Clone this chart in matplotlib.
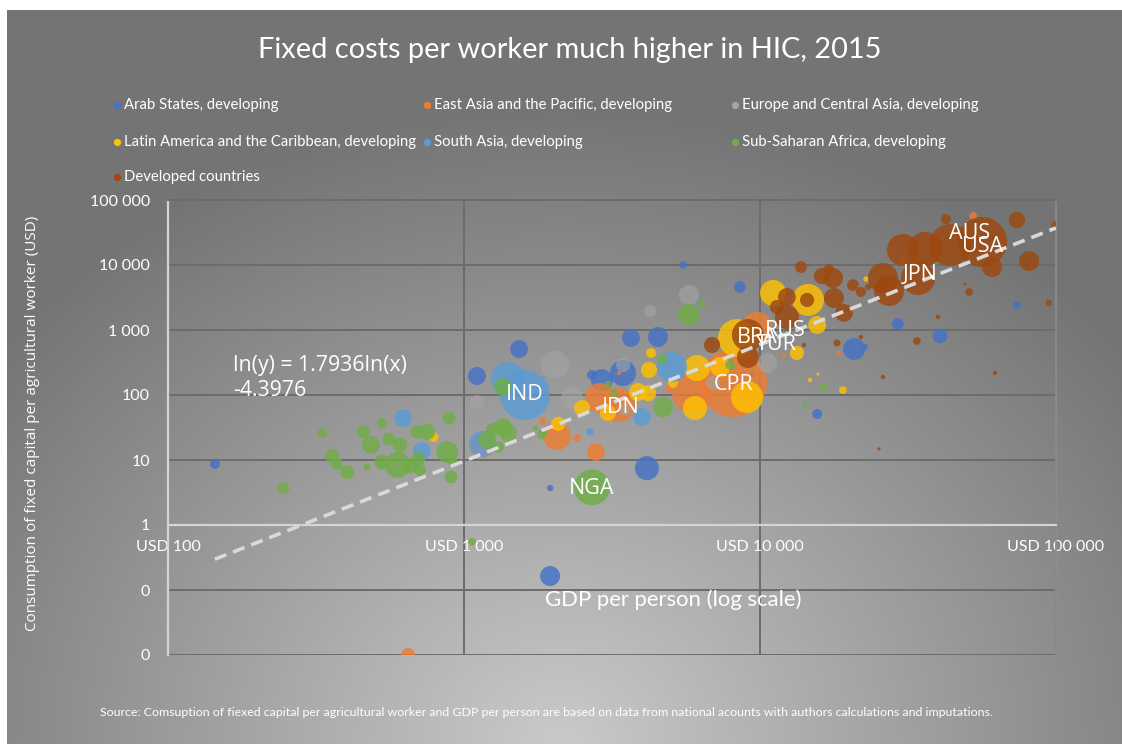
import numpy as np
import matplotlib.pyplot as plt
from matplotlib.lines import Line2D
from matplotlib.ticker import FixedLocator, FixedFormatter, NullLocator

plt.rcParams["font.family"] = ["Lato", "DejaVu Sans"]

# ---------------- data ----------------

TITLE = "Fixed costs per worker much higher in HIC, 2015"
SOURCE = ("Source: Comsuption of fiexed capital per agricultural worker and GDP per person "
          "are based on data from national acounts with authors calculations and imputations.")

series_names = [
    "Arab States, developing",
    "East Asia and the Pacific, developing",
    "Europe and Central Asia, developing",
    "Latin America and the Caribbean, developing",
    "South Asia, developing",
    "Sub-Saharan Africa, developing",
    "Developed countries",
]
series_colors = ["#4472C4", "#ED7D31", "#A5A5A5", "#FFC000", "#5B9BD5", "#70AD47", "#9E480E"]
series_alpha = [0.82, 0.82, 0.6, 0.82, 0.82, 0.82, 0.82]

# GDP per person (USD), capital per agricultural worker (USD), bubble size (relative)
arab_gdp = [144, 5495, 8550, 1535, 1106, 3664, 4520, 2922, 3447, 2706, 4150, 1954, 1954,
            20790, 29240, 40550, 73830, 15600, 22630, 9465]
arab_cap = [8.7, 10000, 4590, 510, 196, 753, 780, 170, 218, 203, 7.5, 0.164, 3.7,
            510, 1237, 810, 2425, 51, 548, 210]
arab_size = [10, 6, 14, 32, 32, 32, 40, 48, 68, 10, 58, 40, 4, 48, 14, 22, 6, 10, 4, 4]

eap_gdp = [8110, 5848, 9770, 2878, 3313, 2061, 1849, 2410, 2790, 1151, 647, 4929,
           12060, 18490, 52500, 30400, 3340]
eap_cap = [153, 104, 1112, 90, 70, 23.4, 40, 21.8, 13.3, 16.4, 0.01, 124,
           412, 443, 56800, 11130, 218]
eap_size = [462, 144, 90, 90, 116, 78, 6, 6, 32, 58, 20, 6, 2, 2, 6, 4, 2]

eca_gdp = [5754, 4250, 1106, 2317, 3447, 3500, 6937, 10560, 2029]
eca_cap = [3450, 1960, 78, 90, 290, 59, 153, 311, 290]
eca_size = [40, 14, 20, 48, 20, 14, 20, 40, 78]

lac_gdp = [11070, 14530, 15600, 13330, 19060, 14760, 15700, 22800, 8360, 9040, 6120,
           6030, 7330, 4217, 4285, 3869, 4187, 3063, 2506, 2079, 789, 5085]
lac_cap = [3710, 2900, 1194, 443, 119, 170, 210, 6090, 753, 93, 260,
           63, 270, 243, 443, 111, 107, 53, 63, 36, 22.6, 153]
lac_size = [68, 102, 32, 20, 6, 2, 1, 3, 144, 102, 68, 58, 40, 26, 10, 32, 26, 26, 26, 20, 10, 10]

sa_gdp = [1607, 1409, 622, 721, 1151, 5044, 3993, 2666]
sa_cap = [100, 176, 44, 13.7, 17.6, 270, 46, 27]
sa_size = [250, 116, 32, 32, 68, 90, 32, 6]

ssa_gdp = [331, 456, 528, 485, 558, 608, 358, 372, 403, 470, 528, 598, 658, 710, 700,
           694, 750, 877, 890, 904, 918, 245, 1064, 1355, 1355, 1253, 1409, 1197, 1303,
           1835, 1738, 3063, 3211, 4700, 2706, 5754, 6368, 4667, 7925, 14190, 16320]
ssa_cap = [26, 27, 37, 17, 21, 17, 11.5, 8.7, 6.5, 7.8, 9.3, 8.4, 8.1, 7.0, 10.4,
           27, 27, 13.3, 44, 5.5, 9.3, 3.7, 0.55, 133, 32, 29, 26, 20.3, 15.8,
           25, 31, 148, 107, 65, 3.8, 1700, 2510, 358, 290, 70, 133]
ssa_size = [10, 17, 10, 32, 17, 22, 20, 14, 20, 5, 22, 68, 22, 14, 20,
            17, 26, 48, 17, 17, 10, 14, 6, 32, 32, 20, 32, 32, 14,
            10, 3, 4, 6, 40, 130, 48, 6, 10, 10, 3, 6]

dev_gdp = [30400, 36090, 43850, 56270, 60800, 73830, 81080, 42450, 99300, 26040, 27290,
           34200, 13760, 16190, 17650, 17100, 20600, 21920, 23200, 17780, 19220, 14420,
           12330, 11410, 12330, 18200, 21920, 14080, 26040, 33900, 39930, 50850, 49300,
           62230, 94600, 25230, 9100, 9100, 6887]
dev_cap = [17020, 17630, 20310, 22600, 9310, 49200, 11530, 51000, 41250, 6310, 3980,
           6310, 9310, 6770, 6310, 8670, 4920, 3840, 4590, 3110, 1830, 2900,
           3220, 2260, 1585, 631, 780, 588, 189, 677, 1585, 3840, 5100,
           218, 2600, 14.8, 838, 384, 588]
dev_size = [102, 116, 176, 250, 40, 26, 40, 10, 6, 90, 90,
            116, 14, 26, 40, 10, 14, 10, 4, 40, 32, 20,
            32, 20, 58, 5, 2, 2, 2, 6, 2, 6, 1,
            2, 4, 1, 102, 48, 26]

all_gdp = [arab_gdp, eap_gdp, eca_gdp, lac_gdp, sa_gdp, ssa_gdp, dev_gdp]
all_cap = [arab_cap, eap_cap, eca_cap, lac_cap, sa_cap, ssa_cap, dev_cap]
all_size = [arab_size, eap_size, eca_size, lac_size, sa_size, ssa_size, dev_size]

# country labels
label_codes = ["IND", "IDN", "CPR", "NGA", "BRA", "RUS", "TUR", "JPN", "AUS", "USA"]
label_gdp = [1607, 3380, 8110, 2706, 9800, 12150, 11300, 34750, 51000, 56270]
label_cap = [100, 65, 143, 3.7, 780, 1000, 588, 7020, 31000, 19600]

# trendline as shown on chart
trend_slope = 1.7936
trend_const = -4.3976
trend_text = "ln(y) = 1.7936ln(x)\n-4.3976"

x_ticks = [100, 1000, 10000, 100000]
x_ticklabels = ["USD 100", "USD 1 000", "USD 10 000", "USD 100 000"]
y_ticks = [0.01, 0.1, 1, 10, 100, 1000, 10000, 100000]
y_ticklabels = ["0", "0", "1", "10", "100", "1 000", "10 000", "100 000"]

SIZE_SCALE = 5.18

# ---------------- figure + gradient background ----------------

W, H = 1122, 744
fig = plt.figure(figsize=(W / 100, H / 100), dpi=100, facecolor="white")

bg = fig.add_axes([0, 0, 1, 1], zorder=-10)
yy, xx = np.mgrid[0:H, 0:W]
t = np.sqrt(((xx - 560) / 720.0) ** 2 + ((yy - 744) / 640.0) ** 2)
t = np.clip(t, 0, 1)
g = (202 - 86 * t) / 255.0
g[:10, :] = 1.0
g[:, :7] = 1.0
bg.imshow(np.dstack([g, g, g]), aspect="auto", extent=(0, W, H, 0), interpolation="bilinear")
bg.set_axis_off()

ax = fig.add_axes([168 / W, (H - 655) / H, (1056 - 168) / W, (655 - 200) / H])
ax.set_facecolor("none")
ax.set_xscale("log")
ax.set_yscale("log")
ax.set_xlim(100, 100000)
ax.set_ylim(0.01, 100000)

# bubbles, series in Excel order, bigger bubbles drawn first
for col, al, gx, cy, sz in zip(series_colors, series_alpha, all_gdp, all_cap, all_size):
    order = np.argsort(sz)[::-1]
    gx = np.array(gx)[order]
    cy = np.array(cy)[order]
    sz = np.array(sz)[order]
    ax.scatter(gx, cy, s=sz * SIZE_SCALE, color=col, alpha=al, linewidths=0, zorder=3)

# trendline
tx = np.geomspace(min(min(v) for v in all_gdp), 100000, 50)
ty = 10 ** (trend_slope * np.log10(tx) + trend_const)
ax.plot(tx, ty, color="#d9d9d9", lw=2.6, ls=(0, (3.4, 2.0)), zorder=4, solid_capstyle="butt")

for code, gx, cy in zip(label_codes, label_gdp, label_cap):
    ax.text(gx, cy, code, color="white", fontsize=15.5, family=["Open Sans", "DejaVu Sans"],
            ha="center", va="center", zorder=5)

ax.text(0.073, 0.609, trend_text, transform=ax.transAxes, color="white", fontsize=15.3,
        family=["Open Sans", "DejaVu Sans"], ha="left", va="center", linespacing=1.2,
        zorder=5)

# axes styling
ax.xaxis.set_major_locator(FixedLocator(x_ticks))
ax.xaxis.set_major_formatter(FixedFormatter(x_ticklabels))
ax.xaxis.set_minor_locator(NullLocator())
ax.yaxis.set_major_locator(FixedLocator(y_ticks))
ax.yaxis.set_major_formatter(FixedFormatter(y_ticklabels))
ax.yaxis.set_minor_locator(NullLocator())
ax.tick_params(axis="both", length=0, colors="white", labelsize=11.5)
ax.tick_params(axis="x", pad=11)
ax.tick_params(axis="y", pad=13)

ax.set_axisbelow(True)
ax.grid(True, color="#6c6c6c", lw=1.4)
ax.spines["bottom"].set_position(("data", 1))
ax.spines["bottom"].set_color("#d4d4d4")
ax.spines["bottom"].set_linewidth(1.6)
ax.spines["left"].set_color("#d4d4d4")
ax.spines["left"].set_linewidth(1.6)
ax.spines["top"].set_color("#6c6c6c")
ax.spines["top"].set_linewidth(1.4)
ax.spines["right"].set_color("#8e8e8e")
ax.spines["right"].set_linewidth(1.2)

ax.text(0.569, 0.121, "GDP per person (log scale)", transform=ax.transAxes, color="white",
        fontsize=15.9, ha="center", va="center", zorder=5)

# titles and texts
fig.text(570 / W, 1 - 50 / H, TITLE, color="white", fontsize=20.9, ha="center", va="center")
fig.text(33 / W, 1 - 423 / H, "Consumption of fixed capital per agricultural worker (USD)",
         color="white", fontsize=11, family=["Open Sans", "DejaVu Sans"], rotation=90,
         ha="center", va="center")
fig.text(100 / W, 1 - 713 / H, SOURCE, color="white", fontsize=8.9, ha="left", va="center")

# legend laid out in Excel's three even columns
leg_cols = [117, 427, 735]
leg_rows = [105, 142, 177]
for i, (name, col) in enumerate(zip(series_names, series_colors)):
    lx = leg_cols[i % 3]
    ly = leg_rows[i // 3]
    fig.add_artist(Line2D([lx / W], [1 - ly / H], marker="o", markersize=5.2, color=col,
                          markeredgewidth=0, linestyle="none", transform=fig.transFigure))
    fig.text((lx + 7) / W, 1 - ly / H, name, color="white", fontsize=10.7,
             ha="left", va="center")

fig.savefig("out.png", dpi=100)
